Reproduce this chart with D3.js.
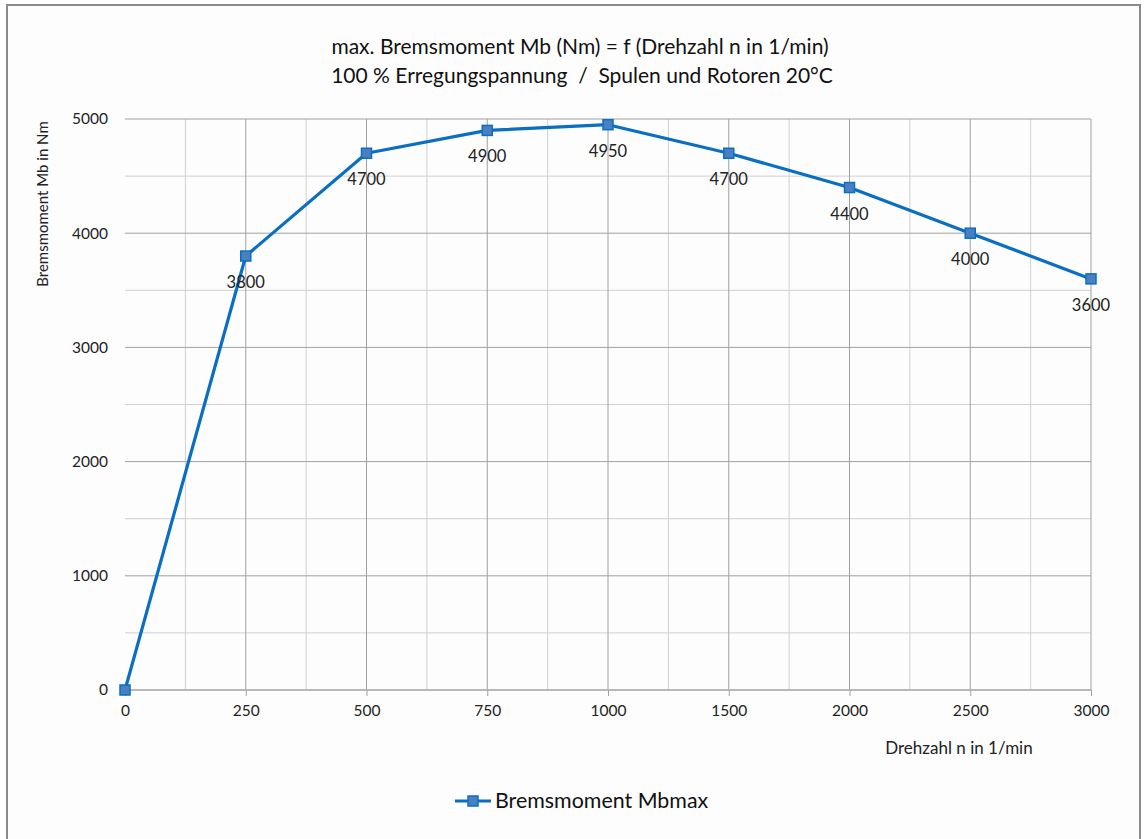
<!DOCTYPE html>
<html><head><meta charset="utf-8">
<script src="https://cdn.jsdelivr.net/npm/d3@7"></script>
<style>body{margin:0;background:#fff}svg{display:block}</style>
</head><body><svg id="c" width="1146" height="839"></svg>
<script>
const categories = ["0","250","500","750","1000","1500","2000","2500","3000"];
const values = [0,3800,4700,4900,4950,4700,4400,4000,3600];
const yTicks = [0,1000,2000,3000,4000,5000];
const seriesName = "Bremsmoment Mbmax";
const title1 = "max. Bremsmoment Mb (Nm) = f (Drehzahl n in 1/min)";
const title2 = "100 % Erregungspannung  /  Spulen und Rotoren 20°C";
const yTitle = "Bremsmoment Mb in Nm";
const xTitle = "Drehzahl n in 1/min";

const font = "Lato, 'Open Sans', sans-serif";
const svg = d3.select("#c");
svg.append("rect").attr("x",7).attr("y",5).attr("width",1133).attr("height",840)
  .attr("fill","#fdfdfd").attr("stroke","#8a8a8a").attr("stroke-width",2);

const x = d3.scalePoint().domain(categories).range([125,1091]);
const y = d3.scaleLinear().domain([0,5000]).range([690,119]);
const step = x.step();

const g = svg.append("g");
d3.range(500,5000,1000).forEach(v=>{
  g.append("line").attr("x1",125).attr("x2",1091).attr("y1",y(v)).attr("y2",y(v)).attr("stroke","#d0d0d0");
});
categories.slice(0,-1).forEach(c=>{
  const xx = x(c)+step/2;
  g.append("line").attr("x1",xx).attr("x2",xx).attr("y1",y(5000)).attr("y2",y(0)).attr("stroke","#d0d0d0");
});
yTicks.slice(1).forEach(v=>{
  g.append("line").attr("x1",125).attr("x2",1091).attr("y1",y(v)).attr("y2",y(v)).attr("stroke","#a0a0a0");
});
categories.slice(1).forEach(c=>{
  g.append("line").attr("x1",x(c)).attr("x2",x(c)).attr("y1",y(5000)).attr("y2",y(0)).attr("stroke","#a0a0a0");
});

const xa = svg.append("g").attr("transform","translate(0,690)")
  .call(d3.axisBottom(x).tickSize(6).tickPadding(9));
xa.select(".domain").attr("stroke","#b8b8b8").attr("stroke-width",2).attr("d","M125,0H1091");
xa.selectAll(".tick line").attr("stroke","#a0a0a0");
xa.selectAll("text").attr("font-family",font).attr("font-size",15.5).attr("fill","#222");

const ya = svg.append("g").attr("transform","translate(125,0)")
  .call(d3.axisLeft(y).tickValues(yTicks).tickSize(0).tickPadding(17).tickFormat(d3.format("d")));
ya.select(".domain").remove();
ya.selectAll("text").attr("font-family",font).attr("font-size",15.5).attr("fill","#222");

const line = d3.line().x((d,i)=>x(categories[i])).y(d=>y(d));
svg.append("path").datum(values).attr("d",line).attr("fill","none")
  .attr("stroke","#0a6fc2").attr("stroke-width",3.2).attr("stroke-linejoin","round");
svg.selectAll("rect.m").data(values).join("rect").attr("class","m")
  .attr("x",(d,i)=>x(categories[i])-5).attr("y",d=>y(d)-5).attr("width",10).attr("height",10)
  .attr("fill","#4a7fc0").attr("stroke","#0a6fc2").attr("stroke-width",1.5);
svg.selectAll("text.lbl").data(values.slice(1)).join("text").attr("class","lbl")
  .attr("x",(d,i)=>x(categories[i+1])).attr("y",d=>y(d)+32)
  .attr("text-anchor","middle").attr("font-family",font).attr("font-size",16.5).attr("fill","#222")
  .text(d=>d);

svg.append("text").attr("x",580).attr("y",54).attr("text-anchor","middle")
  .attr("font-family",font).attr("font-size",21).attr("fill","#111").text(title1);
svg.append("text").attr("x",582).attr("y",83).attr("text-anchor","middle")
  .attr("font-family",font).attr("font-size",21).attr("fill","#111").attr("xml:space","preserve").text(title2);
svg.append("text").attr("transform","translate(48,204) rotate(-90)").attr("text-anchor","middle")
  .attr("font-family",font).attr("font-size",15).attr("fill","#222").text(yTitle);
svg.append("text").attr("x",959).attr("y",754).attr("text-anchor","middle")
  .attr("font-family",font).attr("font-size",17).attr("fill","#222").text(xTitle);

const lg = svg.append("g");
lg.append("line").attr("x1",455).attr("x2",491).attr("y1",801).attr("y2",801).attr("stroke","#0a6fc2").attr("stroke-width",3.2);
lg.append("rect").attr("x",468).attr("y",796).attr("width",10).attr("height",10).attr("fill","#4a7fc0").attr("stroke","#0a6fc2").attr("stroke-width",1.5);
lg.append("text").attr("x",495).attr("y",808).attr("font-family",font).attr("font-size",21.4).attr("fill","#111").text(seriesName);
</script></body></html>
